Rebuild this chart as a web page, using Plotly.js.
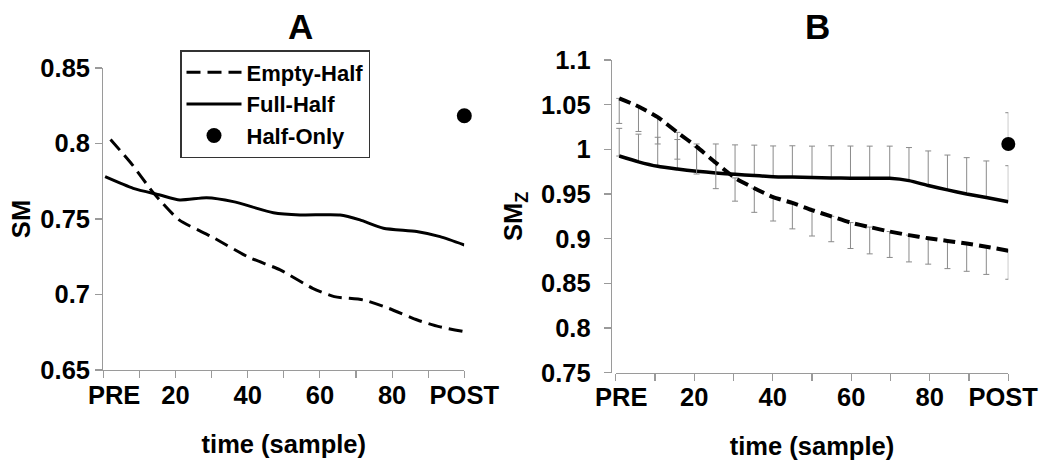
<!DOCTYPE html>
<html>
<head>
<meta charset="utf-8">
<script src="https://cdn.plot.ly/plotly-3.0.1.min.js"></script>
<style>html,body{margin:0;padding:0;background:#fff;}#chart{width:1044px;height:460px;}</style>
</head>
<body>
<div id="chart"></div>
<script>
// ---------- Panel A data ----------
var aEmptyX = [2, 8, 14, 21, 30, 40, 49, 58, 64, 72, 79, 87, 93, 100];
var aEmptyY = [0.8027, 0.786, 0.767, 0.7494, 0.7383, 0.725, 0.7163, 0.7041, 0.6986, 0.6964, 0.6909, 0.6831, 0.6787, 0.6754];
var aFullX = [0.5, 8.3, 15.7, 21.2, 28.6, 36, 47.1, 54.5, 65.6, 71.1, 77.6, 86.8, 93.3, 100];
var aFullY = [0.778, 0.7703, 0.7659, 0.7626, 0.7641, 0.7615, 0.7542, 0.7527, 0.7527, 0.7494, 0.7439, 0.7417, 0.7383, 0.7328];
var aOnlyX = [100];
var aOnlyY = [0.8184];

// ---------- Panel B data ----------
var bX = [0.9, 5.8, 10.7, 15.7, 20.6, 25.5, 30.4, 35.3, 40.1, 45, 50, 54.9, 59.8, 64.7, 69.8, 74.7, 79.6, 84.5, 89.4, 94.4, 100];
var bFullY = [0.9925, 0.986, 0.981, 0.978, 0.9755, 0.9736, 0.972, 0.9707, 0.9694, 0.969, 0.9686, 0.968, 0.9677, 0.9676, 0.9676, 0.965, 0.9595, 0.9546, 0.950, 0.946, 0.9414];
var bFullErr = [0.031, 0.031, 0.0325, 0.033, 0.0305, 0.0324, 0.033, 0.034, 0.0344, 0.035, 0.035, 0.036, 0.036, 0.036, 0.036, 0.037, 0.0387, 0.039, 0.0407, 0.041, 0.0403];
var bEmptyY = [1.057, 1.048, 1.036, 1.019, 1.003, 0.985, 0.968, 0.9565, 0.9465, 0.940, 0.932, 0.925, 0.918, 0.913, 0.908, 0.904, 0.9005, 0.8975, 0.8945, 0.891, 0.8866];
var bEmptyErr = [0.028, 0.028, 0.030, 0.030, 0.0306, 0.029, 0.026, 0.027, 0.0267, 0.029, 0.029, 0.0284, 0.029, 0.030, 0.029, 0.030, 0.029, 0.031, 0.031, 0.031, 0.032];
var bOnlyX = [100];
var bOnlyY = [1.006];
var bOnlyErr = [0.035];

// ---------- Axis ticks ----------
var xTickVals = [0, 10, 20, 30, 40, 50, 60, 70, 80, 90, 100];
var xLabelText = ['PRE', '20', '40', '60', '80', 'POST'];
var xLabelValsA = [3, 20, 40, 60, 80, 100];
var xLabelValsB = [1.4, 20, 40, 60, 80, 98.7];
var yTickValsA = [0.65, 0.7, 0.75, 0.8, 0.85];
var yTickTextA = ['0.65', '0.7', '0.75', '0.8', '0.85'];
var yTickValsB = [0.75, 0.8, 0.85, 0.9, 0.95, 1, 1.05, 1.1];
var yTickTextB = ['0.75', '0.8', '0.85', '0.9', '0.95', '1', '1.05', '1.1'];

var W = 1044, H = 460;
function px(x) { return x / W; }
function py(y) { return 1 - y / H; }

var FONT = 'Liberation Sans, Arial, Helvetica, sans-serif';
var axisGray = '#9a9a9a';
var zeros = function (arr) { return arr.map(function () { return 0; }); };

var traces = [
  { x: aEmptyX, y: aEmptyY, xaxis: 'x', yaxis: 'y', name: 'Empty-Half', mode: 'lines',
    line: { color: '#000', width: 3, dash: '14px,7px', shape: 'spline', smoothing: 0.6 }, legendrank: 1 },
  { x: aFullX, y: aFullY, xaxis: 'x', yaxis: 'y', name: 'Full-Half', mode: 'lines',
    line: { color: '#000', width: 3, shape: 'spline', smoothing: 0.6 }, legendrank: 2 },
  // Half-Only lives on the overlaid label axis (same domain & range as x)
  { x: aOnlyX, y: aOnlyY, xaxis: 'x3', yaxis: 'y', name: 'Half-Only', mode: 'markers',
    marker: { color: '#000', size: 15 }, cliponaxis: false, legendrank: 3 },

  { x: bX, y: bFullY, xaxis: 'x2', yaxis: 'y2', name: 'Full-Half', mode: 'lines', showlegend: false,
    line: { color: '#000', width: 3.5, shape: 'spline', smoothing: 0.6 },
    error_y: { type: 'data', symmetric: false, array: bFullErr, arrayminus: zeros(bFullErr), color: '#8a8a8a', thickness: 1, width: 3 } },
  { x: bX, y: bEmptyY, xaxis: 'x2', yaxis: 'y2', name: 'Empty-Half', mode: 'lines', showlegend: false,
    line: { color: '#000', width: 4, dash: '12px,6px', shape: 'spline', smoothing: 0.6 },
    error_y: { type: 'data', symmetric: false, array: zeros(bEmptyErr), arrayminus: bEmptyErr, color: '#8a8a8a', thickness: 1, width: 3 } },
  { x: bOnlyX, y: bOnlyY, xaxis: 'x4', yaxis: 'y2', name: 'Half-Only', mode: 'markers', showlegend: false,
    marker: { color: '#000', size: 14 }, cliponaxis: false,
    error_y: { type: 'data', symmetric: false, array: bOnlyErr, arrayminus: [0], color: '#8a8a8a', thickness: 1, width: 3 } }
];

var tickFont = { family: FONT, size: 25.5, color: '#000', weight: 'bold' };
var titleFont = { family: FONT, size: 25.5, color: '#000', weight: 'bold' };

// axis carrying line + tick marks (no labels)
function xTickAxis(domain, anchor) {
  return {
    domain: domain, anchor: anchor, range: [0, 100], showgrid: false, zeroline: false,
    showline: true, linecolor: axisGray, linewidth: 1.2, ticks: 'outside', ticklen: 7, tickcolor: axisGray, tickwidth: 1.2,
    tickmode: 'array', tickvals: xTickVals, showticklabels: false
  };
}
// overlaid axis carrying labels + title
function xLabelAxis(domain, anchor, over, vals) {
  return {
    domain: domain, anchor: anchor, overlaying: over, side: 'bottom', range: [0, 100],
    showgrid: false, zeroline: false, showline: false, ticks: 'outside', ticklen: 7, tickcolor: 'rgba(0,0,0,0)',
    tickmode: 'array', tickvals: vals, ticktext: xLabelText, tickfont: tickFont,
    ticklabelstandoff: -5,
    title: { text: 'time (sample)', font: titleFont, standoff: 27 }
  };
}

var domA = [px(103.3), px(464.3)];
var domB = [px(615.7), px(1008.3)];

var layout = {
  width: W, height: H,
  margin: { l: 0, r: 0, t: 0, b: 0 },
  paper_bgcolor: '#fff', plot_bgcolor: '#fff',
  font: { family: FONT, color: '#000' },
  showlegend: true,
  legend: {
    x: px(180), y: py(50), xanchor: 'left', yanchor: 'top',
    bordercolor: '#333', borderwidth: 1.5, bgcolor: '#fff',
    font: { family: FONT, size: 22, color: '#000', weight: 'bold' },
    itemwidth: 55, traceorder: 'normal', tracegroupgap: 0,
    entrywidth: 200, entrywidthmode: 'pixels'
  },
  xaxis: xTickAxis(domA, 'y'),
  xaxis3: xLabelAxis(domA, 'y', 'x', xLabelValsA),
  yaxis: {
    domain: [py(370), py(68)], anchor: 'x', range: [0.65, 0.85], showgrid: false, zeroline: false,
    showline: true, linecolor: axisGray, linewidth: 1.2, ticks: 'outside', ticklen: 7, tickcolor: axisGray, tickwidth: 1.2,
    tickmode: 'array', tickvals: yTickValsA, ticktext: yTickTextA, tickfont: tickFont, ticklabeloverflow: 'allow',
    title: { text: 'SM', font: titleFont, standoff: 2 }
  },
  xaxis2: xTickAxis(domB, 'y2'),
  xaxis4: xLabelAxis(domB, 'y2', 'x2', xLabelValsB),
  yaxis2: {
    domain: [py(372.7), py(60)], anchor: 'free', position: px(610.7),
    range: [0.75, 1.1], showgrid: false, zeroline: false,
    showline: true, linecolor: axisGray, linewidth: 1.2, ticks: 'outside', ticklen: 7, tickcolor: axisGray, tickwidth: 1.2,
    tickmode: 'array', tickvals: yTickValsB, ticktext: yTickTextB, tickfont: tickFont, ticklabeloverflow: 'allow',
    ticklabelstandoff: 8,
    title: { text: 'SM<sub>Z</sub>', font: titleFont, standoff: 9 }
  },
  annotations: [
    { text: 'A', xref: 'paper', yref: 'paper', x: px(300), y: py(26), xanchor: 'center', yanchor: 'middle', showarrow: false,
      font: { family: FONT, size: 35, color: '#000', weight: 'bold' } },
    { text: 'B', xref: 'paper', yref: 'paper', x: px(817), y: py(26), xanchor: 'center', yanchor: 'middle', showarrow: false,
      font: { family: FONT, size: 35, color: '#000', weight: 'bold' } }
  ]
};

Plotly.newPlot('chart', traces, layout, { displayModeBar: false, staticPlot: true });
</script>
</body>
</html>
